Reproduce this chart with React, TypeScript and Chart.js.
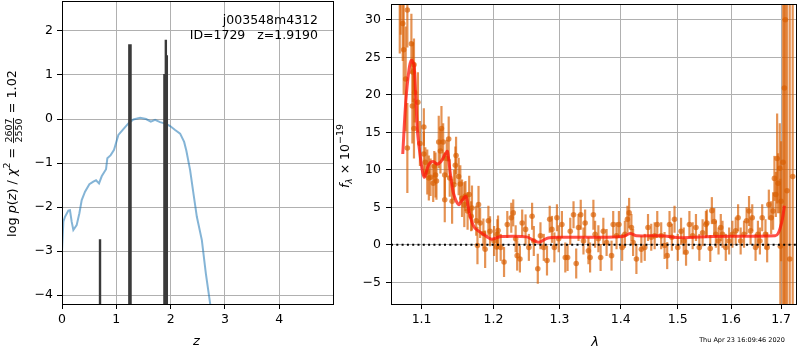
import React, { useEffect, useRef } from "react";
import { Chart, registerables } from "chart.js";

Chart.register(...registerables);

// ---------- left panel: log p(z) ----------
const pzZ = [0.0, 0.025, 0.055, 0.117, 0.147, 0.178, 0.209, 0.27, 0.32, 0.363, 0.424, 0.504, 0.577, 0.627, 0.682, 0.731, 0.811, 0.835, 0.897, 0.958, 1.038, 1.13, 1.222, 1.315, 1.438, 1.548, 1.635, 1.714, 1.806, 1.917, 1.991, 2.083, 2.175, 2.249, 2.29, 2.359, 2.42, 2.483, 2.575, 2.649, 2.728, 2.8];
const pzLog = [-3.0, -2.33, -2.22, -2.08, -2.07, -2.33, -2.52, -2.41, -2.14, -1.84, -1.65, -1.48, -1.42, -1.39, -1.46, -1.3, -1.14, -0.89, -0.82, -0.7, -0.36, -0.23, -0.1, -0.01, 0.03, 0.0, -0.06, -0.02, -0.07, -0.11, -0.16, -0.25, -0.33, -0.52, -0.72, -1.16, -1.69, -2.22, -2.75, -3.51, -4.19, -4.75];
const spikeZ = [0.7, 1.24, 1.262, 1.886, 1.912, 1.93];
const spikeTop = [-2.73, 1.7, 1.7, 1.02, 1.8, 1.45];
const zTicks = [0, 1, 2, 3, 4];
const logpTicks = [-4, -3, -2, -1, 0, 1, 2];
const objName = "j003548m4312";
const objInfo = "ID=1729   z=1.9190";

// ---------- right panel: spectrum ----------
const specWave = [
  1.0713, 1.0725, 1.0752, 1.0764, 1.079, 1.0812, 1.0812, 1.0865, 1.0878, 1.0885,
  1.0899, 1.0899, 1.0908, 1.0951, 1.0978, 1.103, 1.103, 1.105, 1.1076, 1.1097,
  1.112, 1.1156, 1.117, 1.1187, 1.12, 1.1231, 1.1254, 1.1268, 1.1291, 1.1313,
  1.1313, 1.134, 1.1367, 1.1381, 1.1414, 1.144, 1.1459, 1.1469, 1.1505, 1.1528,
  1.1552, 1.1584, 1.16, 1.163, 1.1653, 1.168, 1.1692, 1.1752, 1.177, 1.1785,
  1.1808, 1.1855, 1.188, 1.1927, 1.1951, 1.2009, 1.2048, 1.2067,
  1.2057, 1.2106, 1.2155, 1.2203, 1.2262, 1.2291, 1.2327, 1.235, 1.2391, 1.2425,
  1.2476, 1.2526, 1.2575, 1.2601, 1.2662, 1.2703, 1.2754, 1.2804, 1.2846, 1.2881,
  1.2919, 1.2959, 1.2986, 1.3037, 1.3091, 1.3127, 1.317, 1.3222, 1.3265, 1.3302,
  1.3338, 1.3382, 1.3409, 1.3463, 1.349, 1.3544, 1.3572, 1.3626, 1.3663,
  1.3708, 1.3762, 1.3845, 1.3873, 1.3929, 1.3969, 1.4024, 1.407, 1.4114, 1.4143,
  1.4182, 1.4211, 1.4268, 1.4354, 1.4413, 1.447, 1.4527, 1.4587, 1.4633, 1.4703,
  1.4763, 1.481, 1.4852, 1.4894, 1.4942, 1.5001, 1.5061, 1.511, 1.5152, 1.5214,
  1.5274, 1.5335, 1.5398, 1.5459, 1.5521,
  1.5539, 1.5603, 1.5633, 1.5678, 1.5709, 1.576, 1.5803, 1.5836, 1.5899, 1.5964,
  1.6027, 1.6091, 1.6138, 1.6188, 1.6254, 1.6305, 1.6353, 1.6384, 1.6417, 1.6483,
  1.653, 1.657, 1.6616, 1.6682, 1.6716, 1.675, 1.6797, 1.6837, 1.6864, 1.6892,
  1.6919, 1.6939, 1.6973, 1.6985, 1.7, 1.7041, 1.7068, 1.7088, 1.7123, 1.7179,
  1.7241,
];
const specFlux = [
  33.5, 34.0, 29.5, 26.0, 22.1, 31.3, 12.9, 26.8, 18.5, 23.0,
  24.0, 15.5, 20.3, 19.0, 13.5, 15.7, 12.1, 11.0, 9.7, 8.9,
  9.0, 8.2, 10.5, 9.3, 8.5, 13.7, 12.5, 15.5, 13.7, 9.3,
  6.0, 11.5, 14.1, 8.9, 5.8, 8.0, 10.6, 11.9, 9.1, 8.1,
  6.2, 5.35, 6.5, 4.5, 6.7, 3.8, 4.9, 3.2, -0.1, 5.35,
  2.9, 1.5, -0.6, 3.2, 1.8, 0.5, -0.3, 1.9,
  1.4, -0.35, -2.3, 2.7, 3.6, 4.25, 0.8, -1.45, -1.9, 2.9,
  2.05, -0.35, 3.8, 0.5, -3.2, 1.2, -0.35, -2.1, 3.4, 2.05,
  -0.35, 3.6, 0.8, 2.7, -1.7, -1.7, 1.8, 4.0, -2.5, 2.3,
  4.0, 0.5, 2.9, -0.8, -1.7, 4.0, 1.4, 0.8, -1.7,
  1.8, 0.3, -1.45, 2.7, 1.2, 2.7, -0.35, 1.4, 3.4, 4.25,
  2.3, 0.3, -1.9, -0.6, -0.35, 2.3, 1.0, 1.2, 2.7, 1.2,
  -0.1, -1.45, 2.7, 1.0, 3.4, -0.35, 1.8, 0.5, -1.0, 2.7,
  1.2, 2.3, -0.35, 1.6, 2.7,
  2.9, -0.5, 4.55, 3.1, 1.4, 0.5, 2.3, 1.4, -0.35, 0.5,
  1.4, 1.85, 3.6, 0.5, 1.4, 3.2, 4.5, 1.85, 3.6, -0.35,
  1.4, 0.5, 3.6, 1.4, -0.35, 5.35, 3.6, 4.5, 8.85, 6.7,
  11.5, 8.2, 10.2, -0.2, 5.8, 11.0, 20.9, 30.0, 7.2, -1.9,
  9.1,
];
const specErr = [
  8, 6, 5, 6, 7, 5, 6, 4, 5, 4,
  3.5, 4, 4, 4, 3, 2.5, 3, 2, 3, 3,
  2.5, 2.5, 2, 3, 2.5, 3.5, 3, 3, 2.5, 3,
  3, 2.5, 3, 2.5, 3, 2, 2.5, 2.5, 2.5, 2.5,
  2.5, 3, 2, 2.5, 2.5, 2, 3, 2, 2.5, 2.5,
  2, 2, 2.5, 2, 2, 2, 2, 2,
  2, 1.8, 2, 1.8, 2, 1.8, 1.8, 2, 1.8, 1.8,
  2, 1.8, 1.8, 2, 2, 1.8, 1.8, 2, 1.8, 1.8,
  2, 1.8, 1.8, 1.8, 2, 1.8, 1.8, 1.8, 2, 1.8,
  2, 1.8, 1.8, 1.8, 2, 2, 1.8, 1.8, 1.8,
  1.8, 1.8, 2, 1.8, 1.8, 1.8, 1.8, 1.8, 1.8, 2,
  1.8, 1.8, 2, 1.8, 1.8, 1.8, 1.8, 1.8, 1.8, 1.8,
  1.8, 1.8, 1.8, 1.8, 1.8, 1.8, 1.8, 1.8, 1.8, 1.8,
  1.8, 1.8, 1.8, 1.8, 1.8,
  1.8, 1.8, 1.8, 1.8, 1.8, 1.8, 1.8, 1.8, 1.8, 1.8,
  1.8, 1.8, 1.8, 1.8, 1.8, 1.8, 2, 1.8, 1.8, 1.8,
  1.8, 1.8, 1.8, 2, 2, 2, 2.2, 2.5, 3, 3,
  6, 4, 6, 9, 8, 45, 45, 45, 45, 45,
  45,
];
const modelWave = [1.0752, 1.079, 1.0833, 1.0865, 1.0899, 1.0921, 1.0943, 1.0978, 1.1017, 1.104, 1.1097, 1.1156, 1.121, 1.1262, 1.132, 1.135, 1.1387, 1.1432, 1.1505, 1.1552, 1.1607, 1.166, 1.1727, 1.1855, 1.1968, 1.2048, 1.211, 1.249, 1.2615, 1.269, 1.282, 1.3, 1.354, 1.404, 1.416, 1.427, 1.469, 1.507, 1.564, 1.688, 1.6939, 1.6985, 1.703, 1.7068];
const modelFlux = [12.1, 18.9, 23.3, 24.6, 24.0, 20.3, 15.4, 12.1, 9.5, 9.0, 10.7, 11.1, 10.75, 11.1, 12.1, 12.45, 9.7, 6.9, 5.35, 5.9, 6.45, 4.0, 2.3, 1.4, 0.75, 0.95, 1.1, 1.05, 0.5, 0.35, 0.9, 1.0, 1.0, 1.1, 1.5, 1.2, 1.2, 0.95, 1.1, 1.2, 1.5, 2.3, 3.5, 5.2];
const lamTicks = [1.1, 1.2, 1.3, 1.4, 1.5, 1.6, 1.7];
const fluxTicks = [-5, 0, 5, 10, 15, 20, 25, 30];
const stamp = "Thu Apr 23 16:09:46 2020";

const FONT = "'DejaVu Sans', sans-serif";
const ORANGE = "rgba(217,95,2,0.68)";
const GRID = "#b0b0b0";
const fmt = (v: number, d = 0) => (v < 0 ? "\u2212" : "") + Math.abs(v).toFixed(d);
const fnt = (size: number, italic = false) => `${italic ? "italic " : ""}${size}px ${FONT}`;

type Run = { t?: string; f?: string; dy?: number; frac?: [string, string] };

function drawRuns(ctx: CanvasRenderingContext2D, runs: Run[]) {
  const small = fnt(9.5);
  const widths = runs.map((r) => {
    if (r.frac) {
      ctx.font = small;
      return Math.max(ctx.measureText(r.frac[0]).width, ctx.measureText(r.frac[1]).width) + 2;
    }
    ctx.font = r.f!;
    return ctx.measureText(r.t!).width;
  });
  const total = widths.reduce((a, b) => a + b, 0);
  let x = -total / 2;
  ctx.textAlign = "left";
  ctx.textBaseline = "alphabetic";
  runs.forEach((r, i) => {
    const w = widths[i];
    if (r.frac) {
      ctx.font = small;
      const w0 = ctx.measureText(r.frac[0]).width;
      const w1 = ctx.measureText(r.frac[1]).width;
      ctx.fillText(r.frac[0], x + (w - w0) / 2, -3.4);
      ctx.fillText(r.frac[1], x + (w - w1) / 2, 6.5);
      ctx.fillRect(x + 0.5, -2.5, w - 1, 0.9);
    } else {
      ctx.font = r.f!;
      ctx.fillText(r.t!, x, r.dy || 0);
    }
    x += w;
  });
}

const framePlugin = {
  id: "frame",
  afterDatasetsDraw(chart: any) {
    const { ctx, chartArea: a } = chart;
    ctx.save();
    ctx.strokeStyle = "#000";
    ctx.lineWidth = 1;
    ctx.strokeRect(a.left + 0.5, a.top + 0.5, a.right - a.left, a.bottom - a.top);
    ctx.restore();
  },
};

const leftText = {
  id: "leftText",
  afterDraw(chart: any) {
    const ctx: CanvasRenderingContext2D = chart.ctx;
    ctx.save();
    ctx.fillStyle = "#000";
    ctx.font = fnt(12.5);
    ctx.textAlign = "right";
    ctx.textBaseline = "alphabetic";
    ctx.fillText(objName, 318, 24);
    ctx.fillText(objInfo, 318, 39);
    ctx.font = fnt(13, true);
    ctx.textAlign = "center";
    ctx.fillText("z", 196.5, 345);
    ctx.translate(15.5, 153.5);
    ctx.rotate(-Math.PI / 2);
    drawRuns(ctx, [
      { t: "log ", f: fnt(12.8) },
      { t: "p", f: fnt(12.8, true) },
      { t: "(", f: fnt(12.8) },
      { t: "z", f: fnt(12.8, true) },
      { t: ") / ", f: fnt(12.8) },
      { t: "\u03c7", f: fnt(12.8, true) },
      { t: "2", f: fnt(9.5), dy: -5.5 },
      { t: " = ", f: fnt(12.8) },
      { frac: ["2607", "2550"] },
      { t: " = 1.02", f: fnt(12.8) },
    ]);
    ctx.restore();
  },
};

const rightText = {
  id: "rightText",
  afterDraw(chart: any) {
    const ctx: CanvasRenderingContext2D = chart.ctx;
    ctx.save();
    ctx.fillStyle = "#000";
    ctx.font = fnt(13, true);
    ctx.textAlign = "center";
    ctx.fillText("\u03bb", 260, 346);
    ctx.font = fnt(6.5);
    ctx.fillText(stamp, 407, 342);
    ctx.translate(13.5, 156);
    ctx.rotate(-Math.PI / 2);
    drawRuns(ctx, [
      { t: "f", f: fnt(12.5, true) },
      { t: "\u03bb", f: fnt(9, true), dy: 3 },
      { t: " \u00d7 10", f: fnt(12.5) },
      { t: "\u221219", f: fnt(9.5), dy: -5.5 },
    ]);
    ctx.restore();
  },
};

const errorBars = {
  id: "errorBars",
  beforeDatasetsDraw(chart: any) {
    const { ctx, chartArea: a, scales } = chart;
    const xs = scales.x;
    const ys = scales.y;
    ctx.save();
    ctx.beginPath();
    ctx.rect(a.left, a.top, a.right - a.left, a.bottom - a.top);
    ctx.clip();
    ctx.strokeStyle = ORANGE;
    ctx.lineWidth = 2.2;
    for (let i = 0; i < specWave.length; i++) {
      const px = xs.getPixelForValue(specWave[i]);
      ctx.beginPath();
      ctx.moveTo(px, ys.getPixelForValue(specFlux[i] - specErr[i]));
      ctx.lineTo(px, ys.getPixelForValue(specFlux[i] + specErr[i]));
      ctx.stroke();
    }
    ctx.restore();
  },
};

const tickFont = { family: FONT, size: 12.5 };

function axisX(min: number, max: number, ticks: number[], type: string, dec: number) {
  return {
    type,
    min,
    max,
    afterBuildTicks: (s: any) => {
      s.ticks = ticks.map((v) => ({ value: v }));
    },
    afterFit: (s: any) => {
      s.height = 46;
      s.paddingLeft = 0;
      s.paddingRight = 0;
    },
    ticks: {
      font: tickFont,
      color: "#000",
      padding: 3,
      autoSkip: false,
      maxRotation: 0,
      callback: (v: any) => fmt(Number(v), dec),
    },
    grid: { color: GRID, lineWidth: 1, tickColor: "#000", tickLength: 5, drawTicks: true },
    border: { display: false },
  };
}

function axisY(min: number, max: number, ticks: number[], width: number, pad: number) {
  return {
    type: "linear",
    min,
    max,
    afterBuildTicks: (s: any) => {
      s.ticks = ticks.map((v) => ({ value: v }));
    },
    afterFit: (s: any) => {
      s.width = width;
      s.paddingTop = 0;
      s.paddingBottom = 0;
    },
    ticks: {
      font: tickFont,
      color: "#000",
      padding: pad,
      autoSkip: false,
      callback: (v: any) => fmt(Number(v), 0),
    },
    grid: { color: GRID, lineWidth: 1, tickColor: "#000", tickLength: 5, drawTicks: true },
    border: { display: false },
  };
}

export default function App() {
  const leftRef = useRef<HTMLCanvasElement>(null);
  const rightRef = useRef<HTMLCanvasElement>(null);

  useEffect(() => {
    const spikeData: any[] = [];
    spikeZ.forEach((z, i) => {
      spikeData.push({ x: z, y: -6 }, { x: z, y: spikeTop[i] }, { x: z, y: null });
    });
    const left = new Chart(leftRef.current!, {
      type: "line",
      data: {
        datasets: [
          {
            data: spikeData,
            borderColor: "#3a3a3a",
            borderWidth: 2.4,
            pointRadius: 0,
            spanGaps: false,
            order: 1,
          } as any,
          {
            data: pzZ.map((z, i) => ({ x: z, y: pzLog[i] })),
            borderColor: "rgba(31,119,180,0.55)",
            borderWidth: 2,
            pointRadius: 0,
            tension: 0,
            order: 2,
          },
        ],
      },
      options: {
        responsive: false,
        maintainAspectRatio: false,
        animation: false,
        layout: { padding: { top: 1, right: 7, left: 0, bottom: 0 } },
        plugins: { legend: { display: false }, tooltip: { enabled: false } },
        scales: {
          x: axisX(0, 4.99, zTicks, "linear", 0) as any,
          y: axisY(-4.2, 2.68, logpTicks, 62, 4) as any,
        },
      },
      plugins: [framePlugin, leftText],
    });

    const right = new Chart(rightRef.current!, {
      type: "scatter",
      data: {
        datasets: [
          {
            type: "line",
            data: modelWave.map((w, i) => ({ x: w, y: modelFlux[i] })),
            borderColor: "rgba(255,20,10,0.75)",
            borderWidth: 3,
            pointRadius: 0,
            tension: 0.3,
            order: 1,
          } as any,
          {
            type: "line",
            data: [
              { x: 1.06, y: 0 },
              { x: 1.731, y: 0 },
            ],
            borderColor: "#000",
            borderWidth: 1.8,
            borderDash: [2, 3.3],
            pointRadius: 0,
            order: 2,
          } as any,
          {
            type: "scatter",
            data: specWave.map((w, i) => ({ x: w, y: specFlux[i] })),
            backgroundColor: ORANGE,
            borderWidth: 0,
            pointRadius: 2.8,
            order: 3,
          } as any,
        ],
      },
      options: {
        responsive: false,
        maintainAspectRatio: false,
        animation: false,
        layout: { padding: { top: 1, right: 1, left: 0, bottom: 0 } },
        plugins: { legend: { display: false }, tooltip: { enabled: false } },
        scales: {
          x: axisX(1.06, 1.731, lamTicks, "logarithmic", 1) as any,
          y: axisY(-7.9, 32.1, fluxTicks, 56, 5) as any,
        },
      },
      plugins: [errorBars, framePlugin, rightText],
    });

    return () => {
      left.destroy();
      right.destroy();
    };
  }, []);

  return (
    <div style={{ position: "absolute", left: 0, top: 0, width: 800, height: 350, background: "#fff" }}>
      <canvas
        ref={leftRef}
        width={340}
        height={350}
        style={{ position: "absolute", left: 0, top: 0, width: 340, height: 350 }}
      />
      <canvas
        ref={rightRef}
        width={465}
        height={350}
        style={{ position: "absolute", left: 335, top: 0, width: 465, height: 350 }}
      />
    </div>
  );
}
